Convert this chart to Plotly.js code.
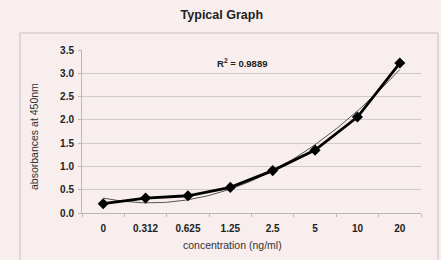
<!DOCTYPE html>
<html>
<head>
<meta charset="utf-8">
<script src="https://cdn.plot.ly/plotly-3.0.1.min.js"></script>
<style>html,body{margin:0;padding:0;background:#f8eeee;}#chart{width:441px;height:260px;}</style>
</head>
<body>
<div id="chart"></div>
<script>
// Data
const categories = ["0", "0.312", "0.625", "1.25", "2.5", "5", "10", "20"];
const absorbance = [0.20, 0.32, 0.37, 0.55, 0.91, 1.35, 2.06, 3.22];
const yTicks = [0, 0.5, 1.0, 1.5, 2.0, 2.5, 3.0, 3.5];
const rSquaredLabel = "R<sup>2</sup> = 0.9889";

const xIdx = categories.map((_, i) => i + 1);

// 2nd-order polynomial trendline fitted by least squares to the data
function polyFit2(xs, ys) {
  let S = [0,0,0,0,0], T = [0,0,0];
  for (let i = 0; i < xs.length; i++) {
    let p = 1;
    for (let k = 0; k < 5; k++) { S[k] += p; if (k < 3) T[k] += p * ys[i]; p *= xs[i]; }
  }
  const A = [[S[4],S[3],S[2],T[2]],[S[3],S[2],S[1],T[1]],[S[2],S[1],S[0],T[0]]];
  for (let c = 0; c < 3; c++) {
    for (let r = c + 1; r < 3; r++) {
      const f = A[r][c] / A[c][c];
      for (let k = c; k < 4; k++) A[r][k] -= f * A[c][k];
    }
  }
  const sol = [0,0,0];
  for (let r = 2; r >= 0; r--) {
    let s = A[r][3];
    for (let k = r + 1; k < 3; k++) s -= A[r][k] * sol[k];
    sol[r] = s / A[r][r];
  }
  return sol; // a, b, c
}
const [qa, qb, qc] = polyFit2(xIdx, absorbance);
const trendX = [], trendY = [];
for (let x = 1; x <= xIdx.length + 1e-9; x += 0.05) { trendX.push(x); trendY.push(qa*x*x + qb*x + qc); }

const traces = [
  { x: trendX, y: trendY, type: 'scatter', mode: 'lines',
    line: { color: '#555555', width: 1 }, hoverinfo: 'skip', showlegend: false },
  { x: xIdx, y: absorbance, type: 'scatter', mode: 'lines+markers',
    line: { color: '#000000', width: 2.8 },
    marker: { symbol: 'diamond', size: 8.5, color: '#000000' }, showlegend: false }
];

const layout = {
  width: 441, height: 260,
  paper_bgcolor: '#f8eeee', plot_bgcolor: '#f8eeee',
  margin: { l: 82, r: 20, t: 50, b: 47 },
  font: { family: 'Liberation Sans, Arial, sans-serif', color: '#222222' },
  title: { text: '<b>Typical Graph</b>', font: { size: 12.5, color: '#222222' },
           xref: 'container', x: 0.503, yref: 'container', y: 1 - 15/260, yanchor: 'middle' },
  xaxis: {
    range: [0.5, categories.length + 0.5],
    tickmode: 'array', tickvals: xIdx, ticktext: categories.map(c => '<b>' + c + '</b>'),
    ticks: 'outside', ticklen: 6, tickcolor: 'rgba(0,0,0,0)',
    tickfont: { size: 10, color: '#222222' },
    showgrid: false, zeroline: false,
    showline: true, linecolor: '#b8b8b8', linewidth: 1,
    minor: { tickmode: 'linear', tick0: 0.5, dtick: 1, ticks: 'outside', ticklen: 3, tickcolor: '#b8b8b8', showgrid: false },
    fixedrange: true
  },
  yaxis: {
    range: [0, 3.5], tickmode: 'array', tickvals: yTicks,
    ticktext: yTicks.map(v => '<b>' + v.toFixed(1) + '</b>'),
    ticks: 'outside', ticklen: 3, tickcolor: '#b8b8b8', ticklabelstandoff: 2,
    tickfont: { size: 10, color: '#222222' },
    showgrid: true, gridcolor: '#cfcaca', gridwidth: 1,
    zeroline: false, showline: true, linecolor: '#b8b8b8', linewidth: 1,
    fixedrange: true
  },
  shapes: [
    { type: 'rect', xref: 'paper', yref: 'paper',
      x0: (20 - 82) / 339, x1: (438 - 82) / 339,
      y0: (213 - 265) / 163, y1: (213 - 33) / 163,
      line: { color: '#c8c2c2', width: 1 }, fillcolor: 'rgba(0,0,0,0)', layer: 'below' }
  ],
  annotations: [
    { text: '<b>' + rSquaredLabel + '</b>', xref: 'paper', yref: 'paper',
      x: (241.5 - 82) / 339, y: (213 - 62.7) / 163, showarrow: false,
      font: { size: 9.5, color: '#222222' }, xanchor: 'center', yanchor: 'middle' },
    { text: 'concentration (ng/ml)', xref: 'paper', yref: 'paper',
      x: (232 - 82) / 339, y: (213 - 244.5) / 163, showarrow: false,
      font: { size: 10.5, color: '#333333' }, xanchor: 'center', yanchor: 'middle' },
    { text: 'absorbances at 450nm', xref: 'paper', yref: 'paper', textangle: -90,
      x: (34 - 82) / 339, y: (213 - 137) / 163, showarrow: false,
      font: { size: 10.5, color: '#333333' }, xanchor: 'center', yanchor: 'middle' }
  ]
};

Plotly.newPlot('chart', traces, layout, { displayModeBar: false, staticPlot: true });
</script>
</body>
</html>
